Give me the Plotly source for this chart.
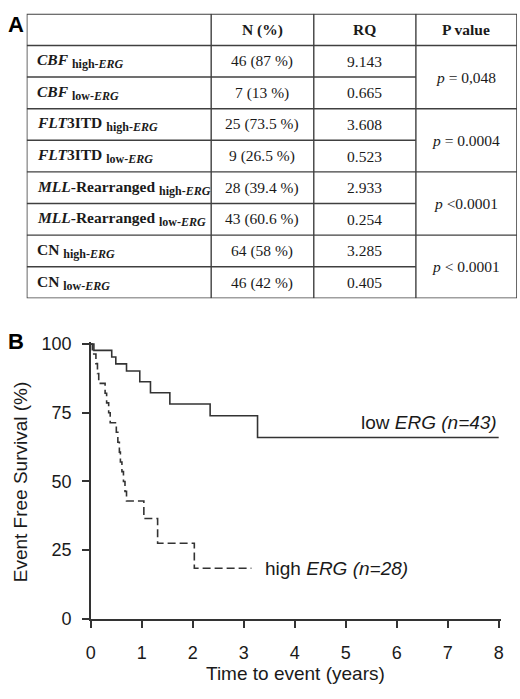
import plotly.graph_objects as go

# ---- panel A: table data ----
headers = ["", "<b>N (%)</b>", "<b>RQ</b>", "<b>P value</b>"]
row_names = ["<i>CBF</i>", "<i>CBF</i>", "<i>FLT</i>3ITD", "<i>FLT</i>3ITD",
             "<i>MLL</i>-Rearranged", "<i>MLL</i>-Rearranged", "CN", "CN"]
row_groups = ["high-<i>ERG</i>", "low-<i>ERG</i>"] * 4
n_pct = ["46 (87 %)", "7 (13 %)", "25 (73.5 %)", "9 (26.5 %)",
         "28 (39.4 %)", "43 (60.6 %)", "64 (58 %)", "46 (42 %)"]
rq = ["9.143", "0.665", "3.608", "0.523", "2.933", "0.254", "3.285", "0.405"]
p_values = ["<i>p</i> = 0,048", "<i>p</i> = 0.0004",
            "<i>p</i> <0.0001", "<i>p</i> < 0.0001"]

# ---- panel B: Kaplan-Meier estimates ----
low_t = [0, 0.06, 0.41, 0.49, 0.70, 0.96, 1.17, 1.55, 2.34, 3.27, 8.0]
low_s = [100, 97.7, 95.3, 92.8, 90.2, 86.3, 82.3, 78.2, 73.9, 66.0, 66.0]
high_t = [0, 0.03, 0.10, 0.13, 0.155, 0.28, 0.31, 0.35, 0.38,
          0.50, 0.53, 0.56, 0.58, 0.61, 0.64, 0.67, 0.70,
          1.04, 1.31, 2.03, 3.15]
high_s = [100, 96.4, 92.9, 89.3, 85.7, 82.1, 78.6, 75.0, 71.4,
          67.9, 64.3, 60.7, 57.1, 53.6, 50.0, 46.4, 42.9,
          36.5, 27.5, 18.4, 18.4]

W, H = 520, 699
LINE = "#333333"
TXT = "#1a1a1a"
SANS = "Arial, Liberation Sans, sans-serif"
SERIF = "Times New Roman, Liberation Serif, serif"

fig = go.Figure()

fig.add_trace(go.Scatter(
    x=low_t, y=low_s, mode="lines", line_shape="hv",
    line=dict(color=LINE, width=1.6), hoverinfo="skip",
))
fig.add_trace(go.Scatter(
    x=high_t, y=high_s, mode="lines", line_shape="hv",
    line=dict(color=LINE, width=1.6, dash="8px,4px"), hoverinfo="skip",
))

# table drawn on its own hidden axes (x in px-like units, y in rows)
col_edges = [0, 187, 291, 394.5, 497]
n_rows = len(row_names) + 1
col_mid = [(col_edges[i] + col_edges[i + 1]) / 2 for i in range(4)]

shapes = [dict(type="rect", xref="x2", yref="y2", x0=0, x1=col_edges[-1],
               y0=0, y1=n_rows, line=dict(color="#404040", width=1.6))]
for xe in col_edges[1:-1]:
    shapes.append(dict(type="line", xref="x2", yref="y2", x0=xe, x1=xe,
                       y0=0, y1=n_rows, line=dict(color="#404040", width=1.4)))
for r in range(1, n_rows):
    # p-value cells span two rows, so every other line stops short
    x_end = col_edges[-1] if r % 2 == 1 else col_edges[3]
    shapes.append(dict(type="line", xref="x2", yref="y2", x0=0, x1=x_end,
                       y0=r, y1=r, line=dict(color="#404040", width=1.4)))

annotations = []
tfont = dict(family=SERIF, size=15.5, color=TXT)


def cell(x, y, text, xanchor="center"):
    return dict(xref="x2", yref="y2", x=x, y=y, text=text, showarrow=False,
                xanchor=xanchor, yanchor="middle", font=tfont)


for i, h in enumerate(headers):
    if h:
        annotations.append(cell(col_mid[i], 0.5, h))
for r in range(len(row_names)):
    y = r + 1.5
    lab = ("<b>%s</b> <sub><span style='font-size:12px'><b>%s</b></span></sub>"
           % (row_names[r], row_groups[r]))
    annotations.append(cell(8, y, lab, xanchor="left"))
    annotations.append(cell(col_mid[1], y, n_pct[r]))
    annotations.append(cell(col_mid[2], y, rq[r]))
for k, p in enumerate(p_values):
    annotations.append(cell(col_mid[3], 2 * k + 2, p))

# panel labels, axis titles, curve labels
lab_font = dict(family=SANS, size=19, color=TXT)


def paper_text(x, y, text, font, angle=0):
    return dict(xref="paper", yref="paper", x=x / W, y=1 - y / H, text=text,
                showarrow=False, xanchor="center", yanchor="middle",
                textangle=angle, font=font)


annotations += [
    paper_text(11, 17, "<b>A</b>", dict(family=SANS, size=22, color="black")),
    paper_text(11, 342, "<b>B</b>", dict(family=SANS, size=22, color="black")),
    paper_text(16, 486, "Event Free Survival (%)", lab_font, angle=-90),
    paper_text(294, 683, "Time to event (years)", lab_font),
    dict(xref="x", yref="y", x=8.0, y=71.6, xanchor="right", yanchor="middle",
         text="low <i>ERG (n=43)</i>", showarrow=False, font=lab_font),
    dict(xref="x", yref="y", x=3.38, y=18.4, xanchor="left", yanchor="middle",
         text="high <i>ERG (n=28)</i>", showarrow=False, font=lab_font),
]

axis_common = dict(showline=True, linecolor=LINE, linewidth=1.6,
                   ticks="outside", ticklen=7, tickwidth=1.6, tickcolor=LINE,
                   showgrid=False, zeroline=False,
                   tickfont=dict(family=SANS, size=18, color=TXT))

fig.update_layout(
    width=W, height=H,
    margin=dict(l=0, r=0, t=0, b=0),
    paper_bgcolor="white", plot_bgcolor="white",
    showlegend=False,
    xaxis=dict(domain=[87 / W, 503 / W], range=[0, 8.05],
               tickvals=list(range(9)), ticklabelstandoff=10, **axis_common),
    yaxis=dict(domain=[(H - 627) / H, (H - 343) / H], range=[0, 100.7],
               tickvals=[0, 25, 50, 75, 100], ticklabelstandoff=7,
               **axis_common),
    xaxis2=dict(domain=[22 / W, 519 / W], range=[0, col_edges[-1]],
                visible=False, anchor="y2"),
    yaxis2=dict(domain=[(H - 298) / H, (H - 6) / H], range=[n_rows, 0],
                visible=False, anchor="x2"),
    shapes=shapes,
    annotations=annotations,
)

fig.write_html(
    "out.html",
    config={"displayModeBar": False},
    post_script=("document.body.style.margin='0';"
                 "document.body.style.overflow='hidden';"
                 "document.documentElement.style.overflow='hidden';"),
)
